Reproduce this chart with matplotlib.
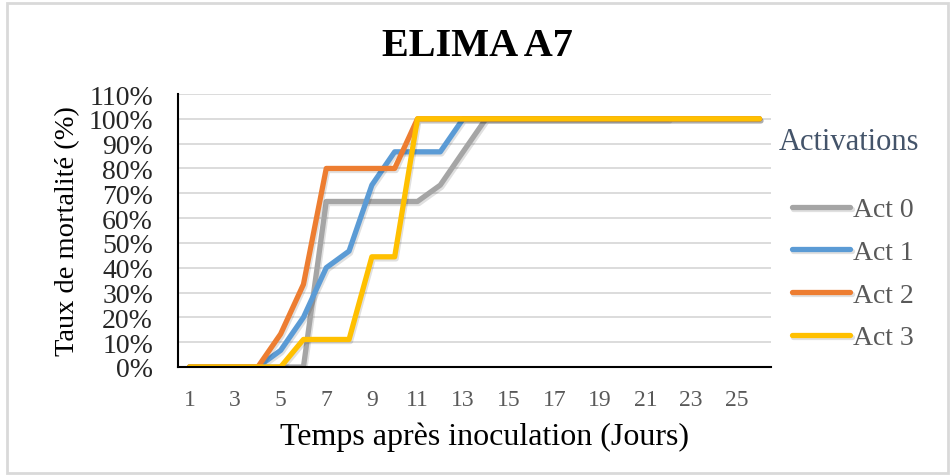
import numpy as np
import matplotlib.pyplot as plt
import matplotlib.patheffects as pe
from matplotlib.ticker import FuncFormatter, MultipleLocator
from matplotlib.patches import Rectangle

plt.rcParams['font.family'] = ['Liberation Serif', 'DejaVu Serif']

# mortality (%) per day after inoculation
days = list(range(1, 27))
act0 = [0, 0, 0, 0, 0, 0, 66.7, 66.7, 66.7, 66.7, 66.7, 73.3, 86.7,
        100, 100, 100, 100, 100, 100, 100, 100, 100]
act1 = [0, 0, 0, 0, 6.7, 20, 40, 46.7, 73.3, 86.7, 86.7, 86.7, 100,
        100, 100, 100, 100, 100, 100, 100, 100, 100, 100, 100, 100, 100]
act2 = [0, 0, 0, 0, 13.3, 33.3, 80, 80, 80, 80, 100, 100, 100,
        100, 100, 100, 100, 100, 100, 100, 100, 100, 100, 100, 100, 100]
act3 = [0, 0, 0, 0, 0, 11.1, 11.1, 11.1, 44.4, 44.4, 100, 100, 100,
        100, 100, 100, 100, 100, 100, 100, 100, 100, 100, 100, 100, 100]

series = [("Act 0", act0, "#A5A5A5"),
          ("Act 1", act1, "#5B9BD5"),
          ("Act 2", act2, "#ED7D31"),
          ("Act 3", act3, "#FFC000")]

fig = plt.figure(figsize=(9.51, 4.77), dpi=100)
ax = fig.add_axes([178 / 951, 1 - 368 / 477, (771 - 178) / 951, (368 - 95) / 477])

shadow = [pe.SimpleLineShadow(offset=(1, -1.5), shadow_color="black", alpha=0.12),
          pe.Normal()]
for name, vals, color in series:
    ax.plot(days[:len(vals)], vals, color=color, lw=3.8, label=name,
            solid_capstyle="round", solid_joinstyle="round", path_effects=shadow)

ax.set_xlim(0.5, 26.5)
ax.set_ylim(0, 110)
ax.set_xticks(days[::2])
ax.yaxis.set_major_locator(MultipleLocator(10))
ax.yaxis.set_major_formatter(FuncFormatter(lambda v, p: f"{v:.0f}%"))
ax.grid(axis="y", color="#D9D9D9", lw=1.3)
ax.set_axisbelow(True)
for side in ["top", "right"]:
    ax.spines[side].set_visible(False)
ax.spines["left"].set_color("black")
ax.spines["bottom"].set_color("black")
ax.spines["left"].set_linewidth(1.5)
ax.spines["bottom"].set_linewidth(1.5)
ax.tick_params(axis="y", length=0, labelsize=20, labelcolor="#262626", pad=18)
ax.tick_params(axis="x", length=0, labelsize=17, labelcolor="#595959", pad=16)

ax.set_xlabel("Temps après inoculation (Jours)", fontsize=23, va="center")
ax.xaxis.set_label_coords((484.5 - 178) / 593, (368 - 437) / 273)
ax.set_ylabel("Taux de mortalité (%)", fontsize=20.5, labelpad=6)

fig.text(0.502, 0.903, "ELIMA A7", fontsize=29, fontweight="bold",
         ha="center", va="center")
fig.text(849 / 951, 1 - 143 / 477, "Activations", fontsize=22,
         color="#44546A", ha="center", va="center")

leg = ax.legend(loc="upper left", bbox_to_anchor=(792 / 951, 1 - 198 / 477),
                bbox_transform=fig.transFigure, frameon=False, fontsize=20,
                handlelength=2.1, handletextpad=0.1, labelspacing=0.62,
                borderaxespad=0, borderpad=0)
for t in leg.get_texts():
    t.set_color("#595959")

fig.patches.append(Rectangle((7 / 951, 3 / 477), 941 / 951, 470 / 477,
                             transform=fig.transFigure, fill=False,
                             edgecolor="#D9D9D9", lw=2))

fig.savefig("out.png", dpi=100)
